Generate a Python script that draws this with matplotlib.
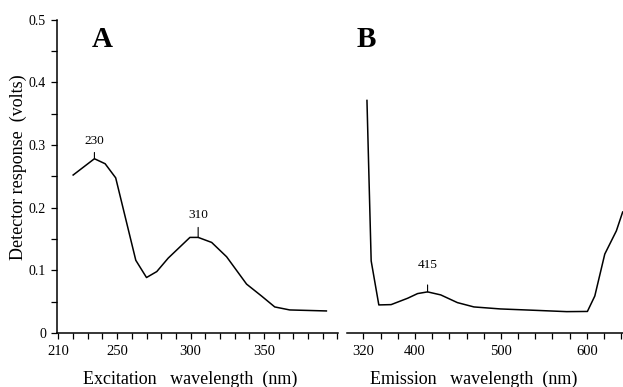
import numpy as np
import matplotlib
matplotlib.use("Agg")
from matplotlib import pyplot as plt

# excitation spectrum (panel A)
exc_nm = [220, 234.5, 241.8, 249, 262.7, 270, 277, 284.8, 299.6, 305.2,
          314.4, 324.6, 338.2, 348.4, 357.4, 367.6, 392.6]
exc_v = [0.252, 0.278, 0.270, 0.2475, 0.116, 0.0885, 0.098, 0.1195, 0.1525, 0.1525,
         0.1445, 0.1216, 0.078, 0.059, 0.0416, 0.0368, 0.0352]
exc_peaks = [234.5, 305.2]
exc_peak_v = [0.278, 0.1525]
exc_peak_lbl = ["230", "310"]

# emission spectrum (panel B)
em_nm = [344.2, 346.5, 349.1, 358.0, 372.3, 391.6, 403.1, 414.7, 430, 449.4,
         468.6, 499.4, 537.9, 576.5, 600.6, 609.2, 620.8, 634.3, 641.6]
em_v = [0.371, 0.25, 0.115, 0.0448, 0.0453, 0.0555, 0.0629, 0.0656, 0.0608, 0.0485,
        0.0416, 0.0384, 0.0363, 0.0341, 0.0344, 0.059, 0.1259, 0.163, 0.193]
em_peaks = [414.7]
em_peak_v = [0.0656]
em_peak_lbl = ["415"]

exc_ticks = np.arange(210, 401, 10)
exc_labels = {210: "210", 250: "250", 300: "300", 350: "350"}
em_ticks = np.arange(340, 641, 20)
em_labels = {340: "320", 400: "400", 500: "500", 600: "600"}
y_ticks = np.arange(0, 0.501, 0.05)

plt.rcParams['font.family'] = ['Liberation Serif', 'DejaVu Serif']

fig = plt.figure(figsize=(6.23, 3.87), dpi=100)
axA = fig.add_axes([0.0915, 0.1395, 0.451, 0.810])
axB = fig.add_axes([0.557, 0.1395, 0.443, 0.810])

def style(ax, ticks, labels, xlim, show_y):
    ax.set_xlim(*xlim)
    ax.set_ylim(0, 0.5)
    ax.spines['top'].set_visible(False)
    ax.spines['right'].set_visible(False)
    ax.spines['bottom'].set_linewidth(1.1)
    ax.spines['left'].set_linewidth(1.1)
    ax.set_xticks(ticks)
    ax.set_xticklabels([labels.get(int(t), "") for t in ticks], fontsize=10.5)
    ax.tick_params(axis='x', length=4, width=0.9, pad=4.5)
    if show_y:
        ax.set_yticks(y_ticks)
        ylbl = []
        for i, t in enumerate(y_ticks):
            if i == 0:
                ylbl.append("0")
            elif i % 2 == 0:
                ylbl.append("%.1f" % t)
            else:
                ylbl.append("")
        ax.set_yticklabels(ylbl, fontsize=10)
        ax.tick_params(axis='y', length=4, width=0.9, pad=4)
    else:
        ax.spines['left'].set_visible(False)
        ax.set_yticks([])

def peaks(ax, xs, ys, lbls, ticklen, textoff):
    for x, y, s, tl, to in zip(xs, ys, lbls, ticklen, textoff):
        ax.annotate("", xy=(x, y), xytext=(0, tl), textcoords='offset points',
                    arrowprops=dict(arrowstyle='-', lw=0.8, color='black',
                                    shrinkA=0, shrinkB=0))
        ax.annotate(s, xy=(x, y), xytext=(0, to), textcoords='offset points',
                    ha='center', va='center', fontsize=9.5)

style(axA, exc_ticks, exc_labels, (209, 400.5), True)
style(axB, em_ticks, em_labels, (321, 642), False)

axA.plot(exc_nm, exc_v, color='black', lw=1.1)
axB.plot(em_nm, em_v, color='black', lw=1.1, clip_on=False)

peaks(axA, exc_peaks, exc_peak_v, exc_peak_lbl, [4.5, 7.2], [13, 16])
peaks(axB, em_peaks, em_peak_v, em_peak_lbl, [5], [19])

axA.text(0.16, 0.935, "A", transform=axA.transAxes, ha='center', va='center',
         fontsize=21, fontweight='bold')
axB.text(0.068, 0.935, "B", transform=axB.transAxes, ha='center', va='center',
         fontsize=21, fontweight='bold')

fig.text(0.029, 0.568, "Detector response  (volts)", rotation=90,
         ha='center', va='center', fontsize=13)
fig.text(0.305, 0.021, "Excitation   wavelength  (nm)", ha='center', va='center', fontsize=13)
fig.text(0.761, 0.021, "Emission   wavelength  (nm)", ha='center', va='center', fontsize=13)

fig.savefig("out.png", dpi=100)
